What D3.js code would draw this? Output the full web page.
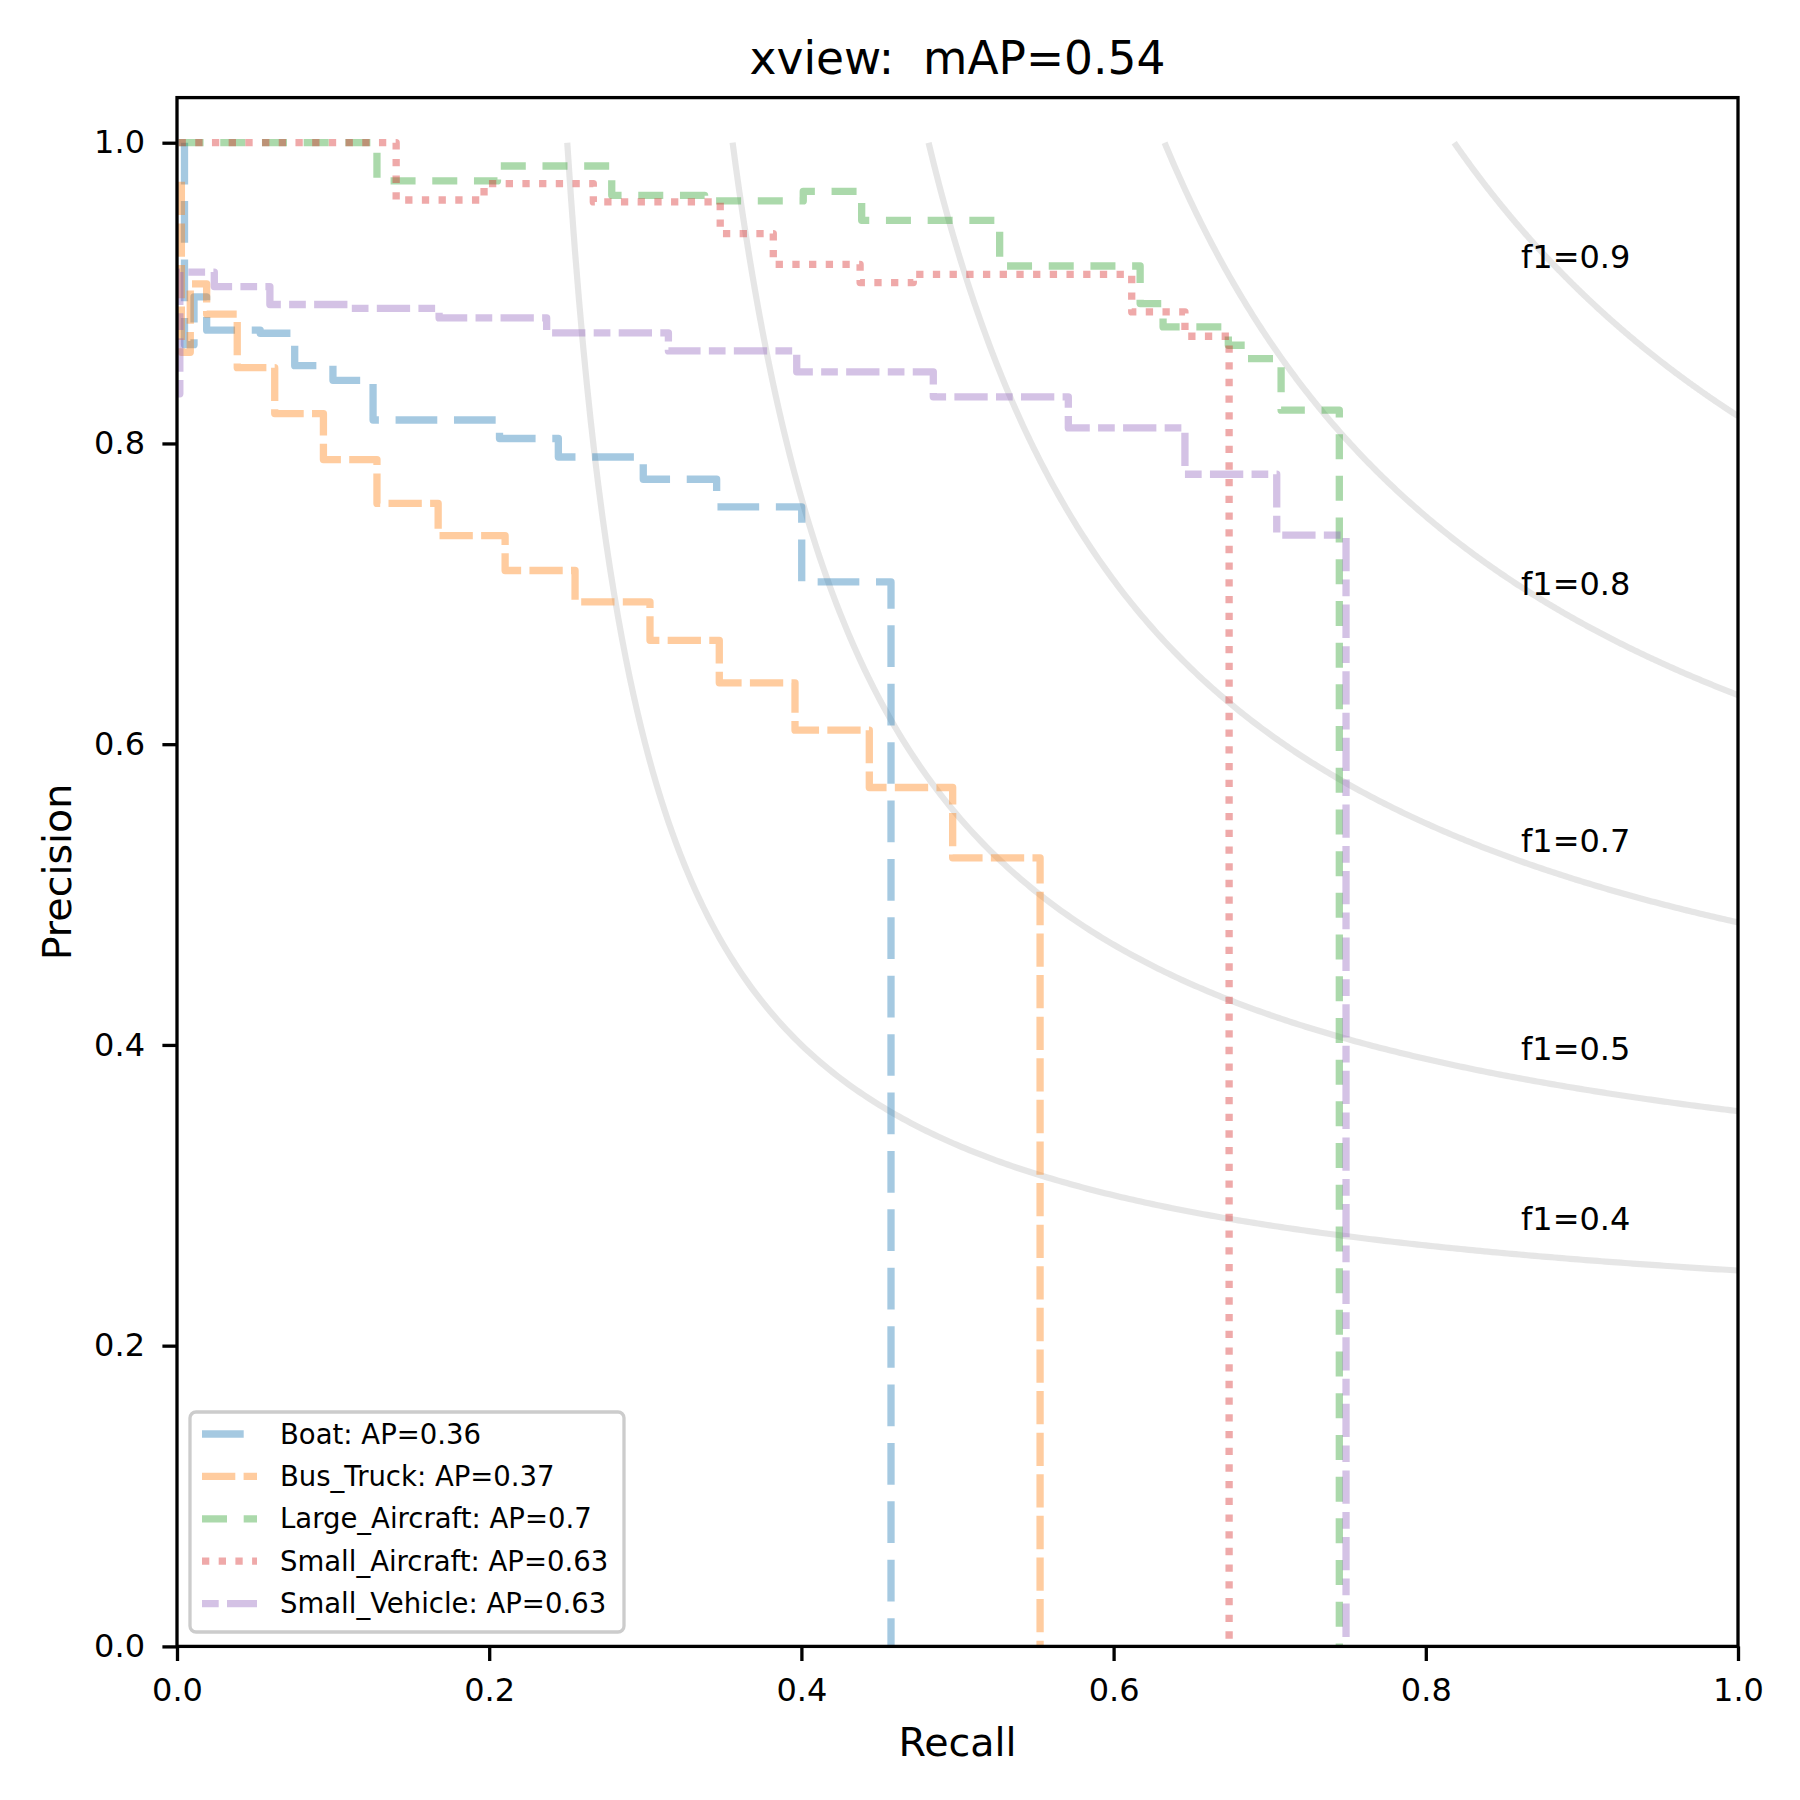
<!DOCTYPE html>
<html>
<head>
<meta charset="utf-8">
<script src="https://cdn.jsdelivr.net/npm/d3@7"></script>
<style>
    body { margin: 0; background: #ffffff; }
    text { font-family: "DejaVu Sans", sans-serif; fill: #000; }
</style>
</head>
<body>
<div id="chart"></div>
<script>
// legend names and AP values
const classNames = ["Boat", "Bus_Truck", "Large_Aircraft", "Small_Aircraft", "Small_Vehicle"];
const apValues = ["0.36", "0.37", "0.7", "0.63", "0.63"];

// PR curves (step points), last point drops to 0
const boatRecall = [0.0048, 0.0048, 0.0109, 0.019, 0.0533, 0.0754, 0.0999, 0.1256, 0.2066, 0.2443, 0.2987, 0.3457, 0.4002, 0.4574];
const boatPrecision = [1.0, 0.8657, 0.8975, 0.8753, 0.8733, 0.8517, 0.842, 0.8156, 0.8033, 0.791, 0.7762, 0.7578, 0.7079, 0];

const busRecall = [0.0028, 0.0028, 0.0085, 0.019, 0.0386, 0.0626, 0.0938, 0.1281, 0.1673, 0.2102, 0.255, 0.303, 0.3474, 0.3959, 0.4435, 0.4969, 0.5529];
const busPrecision = [0.974, 0.8606, 0.9061, 0.886, 0.8504, 0.8199, 0.7893, 0.7601, 0.7387, 0.7155, 0.6946, 0.6691, 0.6408, 0.6093, 0.5712, 0.5244, 0];

const largeAircraftRecall = [0.001, 0.1281, 0.2053, 0.2785, 0.338, 0.4012, 0.4386, 0.527, 0.617, 0.6317, 0.6735, 0.6853, 0.7073, 0.7446];
const largeAircraftPrecision = [1.0, 0.9746, 0.9845, 0.965, 0.9613, 0.9677, 0.9484, 0.918, 0.893, 0.8775, 0.8653, 0.8564, 0.8221, 0];

const smallAircraftRecall = [0.001, 0.1404, 0.1967, 0.2667, 0.348, 0.382, 0.4376, 0.4717, 0.6116, 0.6457, 0.674];
const smallAircraftPrecision = [1.0, 0.9619, 0.9728, 0.9606, 0.9396, 0.9191, 0.907, 0.9125, 0.8875, 0.8713, 0];

const smallVehicleRecall = [0.0, 0.0018, 0.0239, 0.0595, 0.1104, 0.1679, 0.2368, 0.3148, 0.397, 0.4845, 0.571, 0.6457, 0.7045, 0.7489];
const smallVehiclePrecision = [0.833, 0.914, 0.9043, 0.8924, 0.8898, 0.8835, 0.8735, 0.8615, 0.8476, 0.831, 0.8103, 0.7795, 0.739, 0];

// iso-f1 reference curves
const f1Scores = [0.4, 0.525, 0.65, 0.775, 0.9];
const f1Labels = ["f1=0.4", "f1=0.5", "f1=0.7", "f1=0.8", "f1=0.9"];
const f1LabelY = [0.277, 0.390, 0.528, 0.699, 0.917];
const f1LabelX = 0.861;

const tickValues = [0, 0.2, 0.4, 0.6, 0.8, 1.0];

let width = 1800;
let height = 1800;
let plot = { left: 177, right: 1738, top: 97.6, bottom: 1646.4 };

let svg = d3.select("#chart")
    .append("svg")
    .attr("width", width)
    .attr("height", height);

svg.append("rect")
    .attr("width", width)
    .attr("height", height)
    .attr("fill", "#ffffff");

let x = d3.scaleLinear().domain([0, 1]).range([plot.left, plot.right]);
let y = d3.scaleLinear().domain([0, 1.03]).range([plot.bottom, plot.top]);

// f1 curves: precision = f*r / (2r - f), from where it crosses p=1 to r=1
f1Scores.forEach(function (f, i) {
    let r0 = f / (2 - f);
    let pts = d3.range(0, 301).map(function (k) {
        let r = r0 + (1 - r0) * k / 300;
        return [r, f * r / (2 * r - f)];
    });
    svg.append("path")
        .attr("d", d3.line().x(d => x(d[0])).y(d => y(d[1]))(pts))
        .attr("fill", "none")
        .attr("stroke", "#808080")
        .attr("stroke-opacity", 0.2)
        .attr("stroke-width", 6.2);

    svg.append("text")
        .attr("x", x(f1LabelX))
        .attr("y", y(f1LabelY[i]))
        .attr("font-size", "32px")
        .text(f1Labels[i]);
});

// series styling
let series = [
    { recall: boatRecall, precision: boatPrecision, color: "#1f77b4", dash: "41.7,16.7" },
    { recall: busRecall, precision: busPrecision, color: "#ff7f0e", dash: "33.3,8.3" },
    { recall: largeAircraftRecall, precision: largeAircraftPrecision, color: "#2ca02c", dash: "25,16.7" },
    { recall: smallAircraftRecall, precision: smallAircraftPrecision, color: "#d62728", dash: "7.3,9.4" },
    { recall: smallVehicleRecall, precision: smallVehiclePrecision, color: "#9467bd", dash: "16.7,8.3,33.3,8.3" }
];

let prLine = d3.line()
    .x(d => x(d[0]))
    .y(d => y(d[1]))
    .curve(d3.curveStepAfter);

series.forEach(function (s) {
    let pts = s.recall.map((r, i) => [r, s.precision[i]]);
    svg.append("path")
        .attr("d", prLine(pts))
        .attr("fill", "none")
        .attr("stroke", s.color)
        .attr("stroke-opacity", 0.4)
        .attr("stroke-width", 7.3)
        .attr("stroke-dasharray", s.dash)
        .attr("stroke-linejoin", "round")
        .attr("stroke-linecap", "butt");
});

// axes
let xAxis = d3.axisBottom(x)
    .tickValues(tickValues)
    .tickFormat(d3.format(".1f"))
    .tickSizeInner(14.6)
    .tickSizeOuter(0)
    .tickPadding(17);
let yAxis = d3.axisLeft(y)
    .tickValues(tickValues)
    .tickFormat(d3.format(".1f"))
    .tickSizeInner(14.6)
    .tickSizeOuter(0)
    .tickPadding(17.4);

let gx = svg.append("g")
    .attr("transform", "translate(0," + plot.bottom + ")")
    .call(xAxis);
let gy = svg.append("g")
    .attr("transform", "translate(" + plot.left + ",0)")
    .call(yAxis);

[gx, gy].forEach(function (g) {
    g.select(".domain").remove();
    g.selectAll(".tick line").attr("stroke", "#000").attr("stroke-width", 3.3);
    g.selectAll(".tick text")
        .attr("font-size", "32px")
        .attr("font-family", "DejaVu Sans")
        .attr("fill", "#000");
});

// frame
svg.append("rect")
    .attr("x", plot.left)
    .attr("y", plot.top)
    .attr("width", plot.right - plot.left)
    .attr("height", plot.bottom - plot.top)
    .attr("fill", "none")
    .attr("stroke", "#000")
    .attr("stroke-width", 3.3);

// title + labels
svg.append("text")
    .attr("x", (plot.left + plot.right) / 2)
    .attr("y", 73.5)
    .attr("text-anchor", "middle")
    .attr("font-size", "45.5px")
    .style("white-space", "pre")
    .attr("xml:space", "preserve")
    .text("xview:  mAP=0.54");

svg.append("text")
    .attr("x", (plot.left + plot.right) / 2)
    .attr("y", 1756)
    .attr("text-anchor", "middle")
    .attr("font-size", "39.6px")
    .text("Recall");

svg.append("text")
    .attr("transform", "translate(71," + (plot.top + plot.bottom) / 2 + ") rotate(-90)")
    .attr("text-anchor", "middle")
    .attr("font-size", "39.6px")
    .text("Precision");

// legend
let legend = svg.append("g");
legend.append("rect")
    .attr("x", 190)
    .attr("y", 1412)
    .attr("width", 434)
    .attr("height", 220)
    .attr("rx", 6)
    .attr("fill", "#ffffff")
    .attr("fill-opacity", 0.8)
    .attr("stroke", "#cccccc")
    .attr("stroke-width", 3.3);

series.forEach(function (s, i) {
    let cy = 1434 + i * 42.4;
    legend.append("line")
        .attr("x1", 202)
        .attr("x2", 257)
        .attr("y1", cy)
        .attr("y2", cy)
        .attr("stroke", s.color)
        .attr("stroke-opacity", 0.4)
        .attr("stroke-width", 7.3)
        .attr("stroke-dasharray", s.dash);
    legend.append("text")
        .attr("x", 280)
        .attr("y", cy + 9.5)
        .attr("font-size", "27.5px")
        .text(classNames[i] + ": AP=" + apValues[i]);
});
</script>
</body>
</html>
